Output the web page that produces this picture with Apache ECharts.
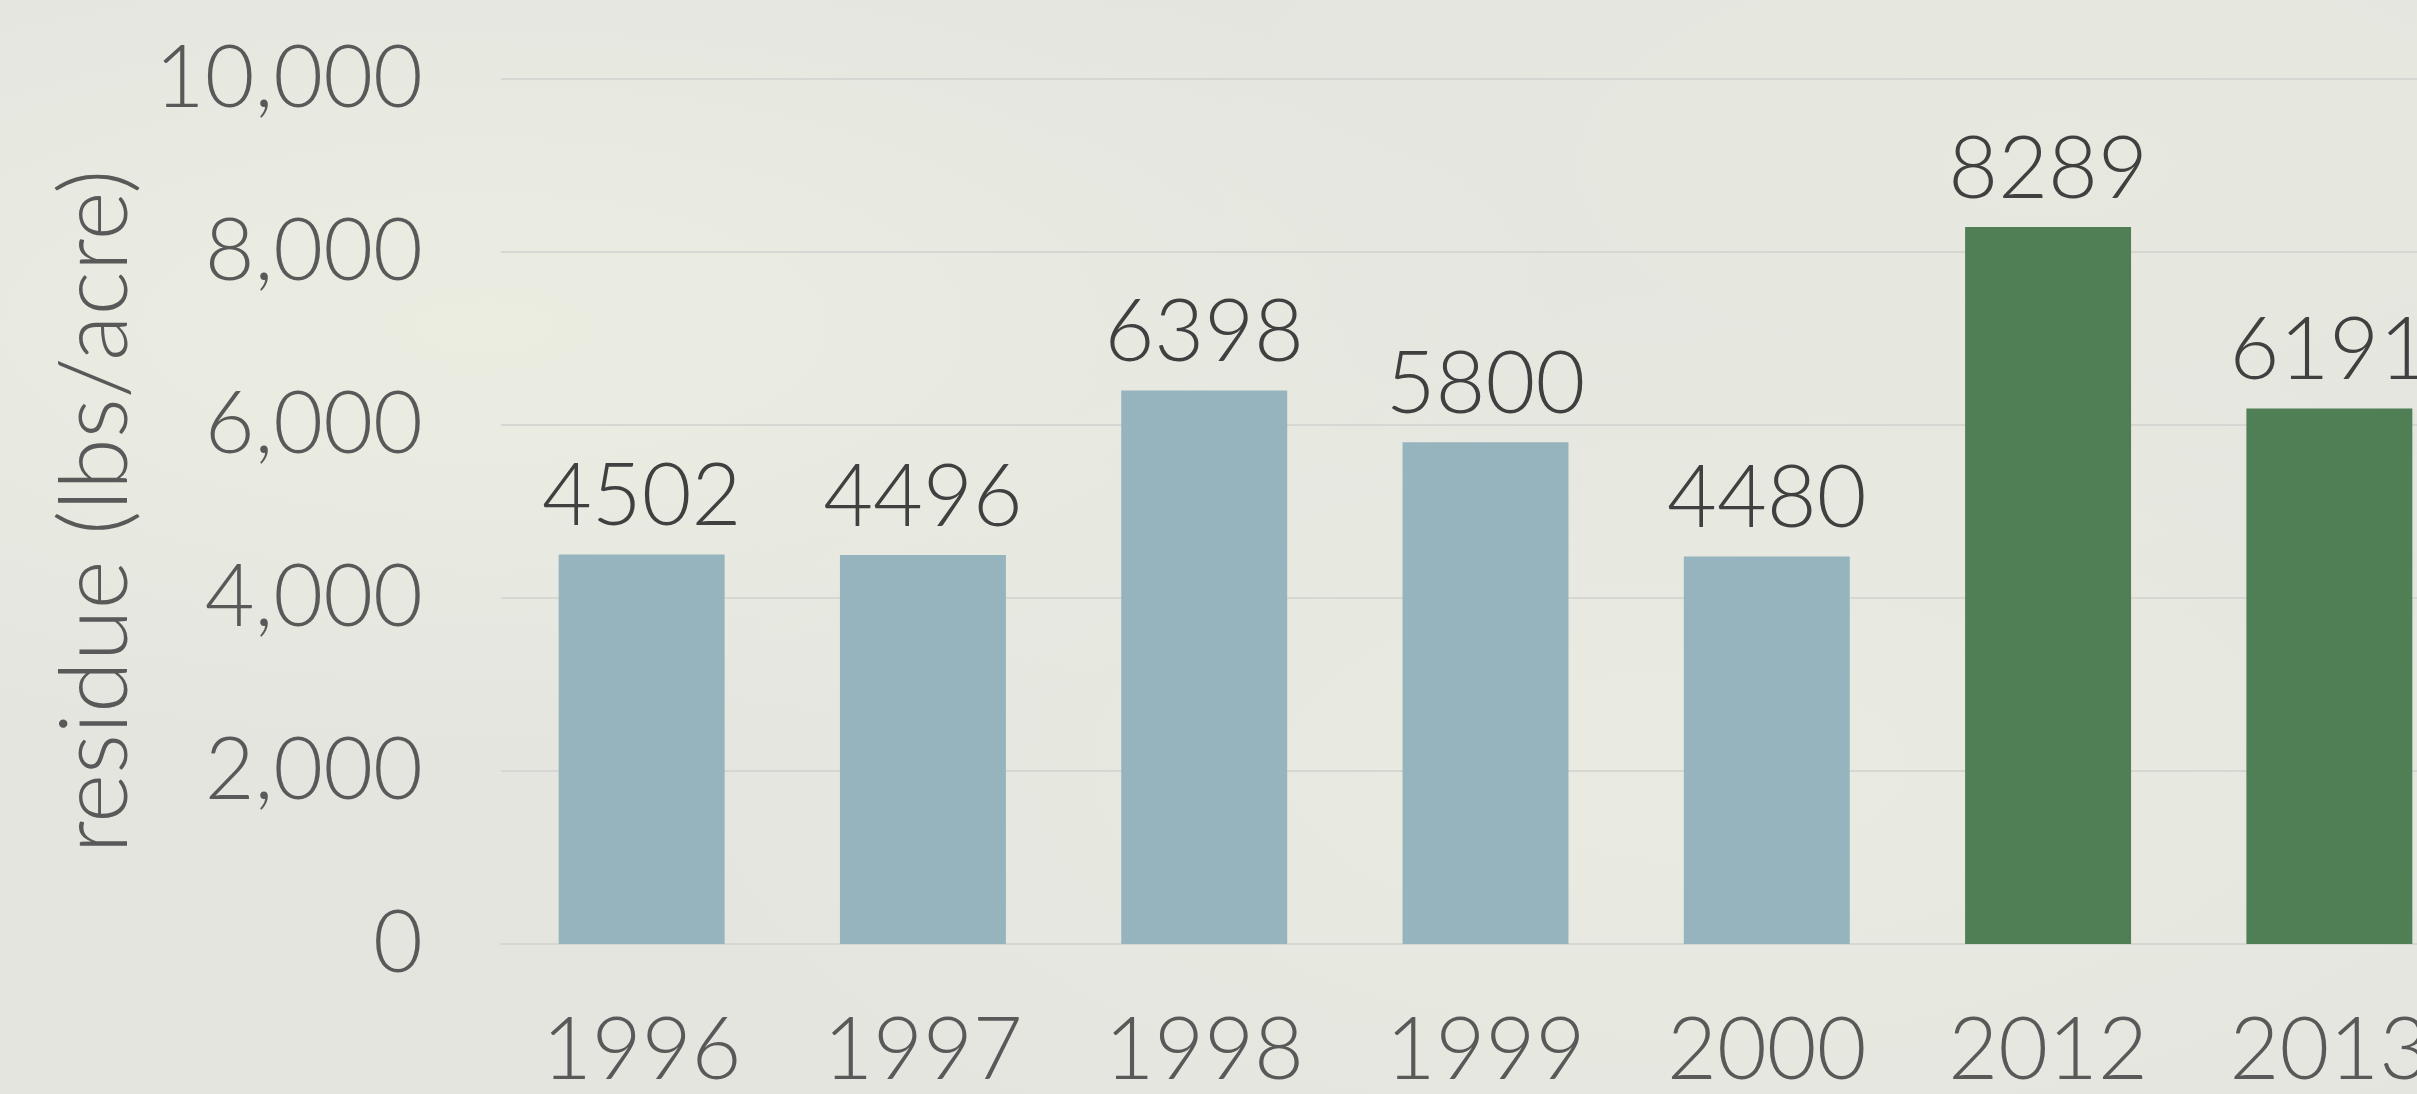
<!DOCTYPE html>
<html>
<head>
<meta charset="utf-8">
<script src="https://cdn.jsdelivr.net/npm/echarts@6/dist/echarts.min.js"></script>
<style>
  html, body { margin: 0; padding: 0; overflow: hidden; }
  body {
    width: 2417px; height: 1094px;
    background: #e4e5df;
    background-image:
      radial-gradient(ellipse at 20% 30%, rgba(238,239,226,0.8), rgba(238,239,226,0) 40%),
      radial-gradient(ellipse at 70% 70%, rgba(236,237,224,0.7), rgba(236,237,224,0) 45%),
      radial-gradient(ellipse at 85% 15%, rgba(232,233,222,0.7), rgba(232,233,222,0) 35%);
  }
  #chart { width: 2500px; height: 1094px; }
</style>
</head>
<body>
<div id="chart"></div>
<script>
// 年份
const years = ['1996', '1997', '1998', '1999', '2000', '2012', '2013']
// 残留量 (lbs/acre)
const residue = [4502, 4496, 6398, 5800, 4480, 8289, 6191]
const yTicks = [0, 2000, 4000, 6000, 8000, 10000]

const FONT = 'Lato'

let chart = echarts.init(document.getElementById('chart'))
chart.setOption({
  animation: false,
  grid: {
    top: 79,
    bottom: 1094 - 945,
    left: 501,
    right: 30,
    containLabel: false
  },
  xAxis: {
    type: 'category',
    data: years,
    axisLine: {
      show: true,
      lineStyle: { color: '#d6d7d3', width: 2 }
    },
    axisTick: { show: false },
    axisLabel: {
      fontFamily: FONT,
      fontWeight: 300,
      fontSize: 86,
      color: '#595959',
      margin: 64
    }
  },
  yAxis: {
    type: 'value',
    min: yTicks[0],
    max: yTicks[yTicks.length - 1],
    interval: 2000,
    name: 'residue (lbs/acre)',
    nameLocation: 'middle',
    nameGap: 306,
    nameTextStyle: {
      fontFamily: FONT,
      fontWeight: 300,
      fontSize: 94,
      color: '#595959'
    },
    axisLine: { show: false },
    axisTick: { show: false },
    splitLine: {
      lineStyle: { color: '#d6d7d3', width: 2 }
    },
    axisLabel: {
      fontFamily: FONT,
      fontWeight: 300,
      fontSize: 86,
      color: '#595959',
      margin: 78,
      formatter: v => v.toLocaleString('en-US')
    }
  },
  series: [{
    type: 'bar',
    data: residue,
    barCategoryGap: '41%',
    itemStyle: {
      color: p => Number(years[p.dataIndex]) >= 2012 ? '#507f56' : '#95b4be'
    },
    label: {
      show: true,
      position: 'top',
      distance: 14,
      fontFamily: FONT,
      fontWeight: 300,
      fontSize: 86,
      color: '#404040'
    }
  }]
}, true)
</script>
</body>
</html>
